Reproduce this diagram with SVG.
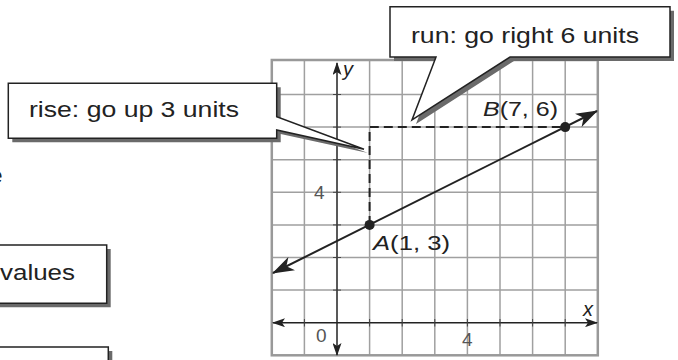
<svg xmlns="http://www.w3.org/2000/svg" width="678" height="360" viewBox="0 0 678 360">
<style>
.grid{stroke:#a0a0a0;stroke-width:1.5;fill:none}
.border{stroke:#999;stroke-width:2.5;fill:none}
.axis{stroke:#222;stroke-width:1.5;fill:none}
.tick{stroke:#444;stroke-width:1}
.dash{stroke:#222;stroke-width:2;stroke-dasharray:9 5;fill:none}
.line{stroke:#222;stroke-width:2;fill:none}
.box{fill:#fff;stroke:#222;stroke-width:1.5}
.shadow{fill:#6a6a6a}
.t{font-family:"Liberation Sans",Arial,sans-serif;fill:#222}
.big{font-size:22.5px}
.lbl{font-size:20px}
.num{font-size:19px;fill:#555}
.it{font-style:italic}
</style>
<defs>
<marker id="ab" markerUnits="userSpaceOnUse" markerWidth="22" markerHeight="15" viewBox="0 0 22 15" refX="21" refY="7.5" orient="auto-start-reverse"><path d="M0,0 L22,7.5 L0,15 L6,7.5 Z" fill="#222"/></marker>
<marker id="as" markerUnits="userSpaceOnUse" markerWidth="13" markerHeight="9" viewBox="0 0 13 9" refX="12" refY="4.5" orient="auto-start-reverse"><path d="M0,0 L13,4.5 L0,9 L3,4.5 Z" fill="#222"/></marker>
</defs>
<rect width="678" height="360" fill="#fff"/>
<g id="grid">
<path class="grid" d="M304.4,60V355.3M369.6,60V355.3M402.2,60V355.3M434.8,60V355.3M467.4,60V355.3M500,60V355.3M532.6,60V355.3M565.2,60V355.3M271.8,94.5H597.8M271.8,127.1H597.8M271.8,159.7H597.8M271.8,192.3H597.8M271.8,224.9H597.8M271.8,257.5H597.8M271.8,290.1H597.8"/>
<rect class="border" x="271.8" y="60" width="326" height="295.3"/>
</g>
<g id="axes">
<line class="axis" x1="273" y1="322.7" x2="597" y2="322.7" marker-start="url(#as)" marker-end="url(#as)"/>
<line class="axis" x1="337" y1="355" x2="337" y2="63" marker-start="url(#as)" marker-end="url(#as)"/>
<path class="tick" d="M304.4,319V326.5M369.6,319V326.5M402.2,319V326.5M434.8,319V326.5M467.4,319V326.5M500,319V326.5M532.6,319V326.5M565.2,319V326.5M333,94.5H341M333,127.1H341M333,159.7H341M333,192.3H341M333,224.9H341M333,257.5H341M333,290.1H341"/>
<text class="t lbl it" x="343" y="76">y</text>
<text class="t lbl it" x="583" y="316">x</text>
<text class="t num" x="316" y="342">0</text>
<text class="t num" x="462" y="346">4</text>
<text class="t num" x="314" y="199">4</text>
</g>
<g id="connectors">
<line class="line" x1="273" y1="273" x2="597" y2="111" marker-start="url(#ab)" marker-end="url(#ab)"/>
<path class="dash" d="M369.6,224.9V127.1H565.2"/>
</g>
<g id="point-A">
<circle cx="369.6" cy="224.9" r="5" fill="#222"/>
<text class="t lbl" x="373" y="250" textLength="77" lengthAdjust="spacingAndGlyphs"><tspan class="it">A</tspan>(1, 3)</text>
</g>
<g id="point-B">
<circle cx="565.2" cy="127.1" r="5" fill="#222"/>
<text class="t lbl" x="483" y="116" textLength="75" lengthAdjust="spacingAndGlyphs"><tspan class="it">B</tspan>(7, 6)</text>
</g>
<g id="callout-rise">
<path class="shadow" d="M12.3,87.3H280.7V120.7L368,153L280.7,134V142.3H12.3Z"/>
<path class="box" d="M8.3,83.3H276.7V116.7L364,149.3L276.7,130V138.3H8.3Z"/>
<text class="t big" x="29" y="117" textLength="210" lengthAdjust="spacingAndGlyphs">rise: go up 3 units</text>
</g>
<g id="callout-run">
<path class="shadow" d="M394,10.7H674V61H514L416,124L440,61H394Z"/>
<path class="box" d="M390,6.7H670V57H510L412,120L436,57H390Z"/>
<text class="t big" x="411" y="43" textLength="228" lengthAdjust="spacingAndGlyphs">run: go right 6 units</text>
</g>
<g id="box-values">
<path class="shadow" d="M-5,249H110.7V307.3H-5Z"/>
<path class="box" d="M-5,245H106.7V303.3H-5Z"/>
<text class="t big" x="0" y="280" textLength="75" lengthAdjust="spacingAndGlyphs">values</text>
</g>
<g id="box-bottom">
<path class="shadow" d="M-5,351H112.3V370H-5Z"/>
<path class="box" d="M-5,347H108.3V366H-5Z"/>
</g>
<text class="t big" x="-10" y="183">e</text>
</svg>
